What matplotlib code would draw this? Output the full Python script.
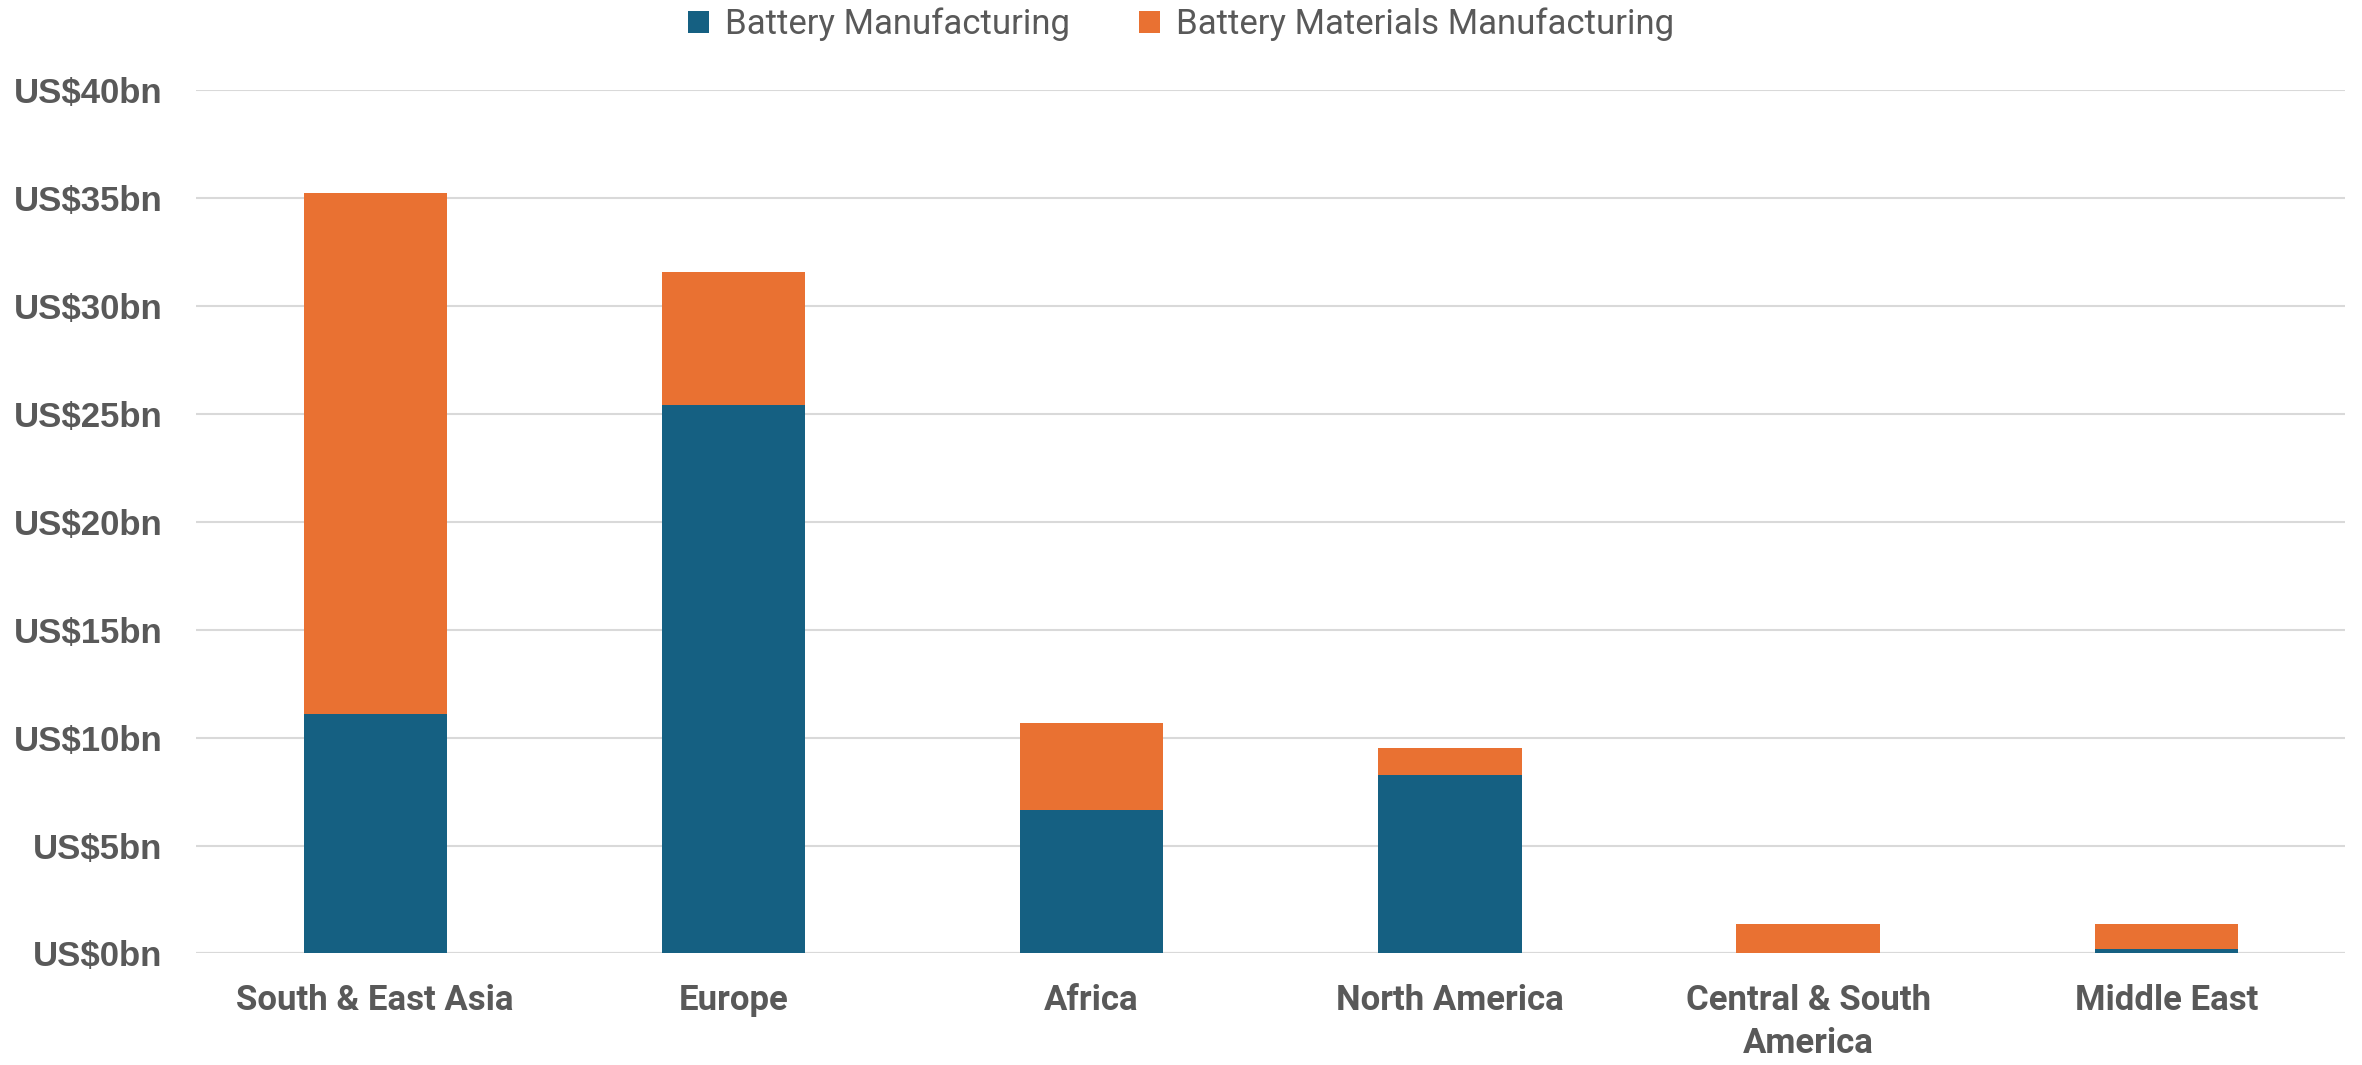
import numpy as np
import matplotlib
matplotlib.use('Agg')
import matplotlib.pyplot as plt
from matplotlib.ticker import FuncFormatter

# investment by region, US$ billions
regions = ['South & East Asia', 'Europe', 'Africa', 'North America',
           'Central & South\nAmerica', 'Middle East']
battery_mfg = [11.1, 25.4, 6.65, 8.27, 0.0, 0.2]
materials_mfg = [24.15, 6.17, 4.03, 1.25, 1.35, 1.15]

blue = '#156082'
orange = '#E97132'
grey = '#595959'

fig = plt.figure(figsize=(23.62, 10.65), dpi=100)
ax = fig.add_axes([0.083, 0.1047, 0.910, 0.8104])

x = np.arange(len(regions))
w = 0.4
ax.bar(x, battery_mfg, w, color=blue, label='Battery Manufacturing', zorder=3)
ax.bar(x, materials_mfg, w, bottom=battery_mfg, color=orange,
       label='Battery Materials Manufacturing', zorder=3)

ax.set_xlim(-0.5, len(regions) - 0.5)
ax.set_ylim(0, 40)
ax.set_yticks(np.arange(0, 41, 5))
ax.yaxis.set_major_formatter(FuncFormatter(lambda v, p: f'US${v:.0f}bn'))
ax.grid(axis='y', color='#D9D9D9', linewidth=1.5, zorder=0)
ax.set_axisbelow(True)
for s in ax.spines.values():
    s.set_visible(False)
ax.axhline(0, color='#D9D9D9', linewidth=1.5, zorder=2)

ax.tick_params(axis='both', length=0)
ax.tick_params(axis='y', pad=24)
ax.tick_params(axis='x', pad=22)
for lab in ax.get_yticklabels():
    lab.set_fontfamily('Liberation Sans')
    lab.set_fontweight('bold')
    lab.set_fontsize(25)
    lab.set_color(grey)

ax.set_xticks(x)
ax.set_xticklabels(regions, fontfamily='Roboto', fontweight='bold',
                   fontsize=25, color=grey, linespacing=1.4)

leg = fig.legend(loc='upper center', bbox_to_anchor=(0.5, 1.022), ncol=2,
                 frameon=False, handlelength=0.6, handleheight=0.6,
                 handletextpad=0.45, columnspacing=2.0,
                 prop={'family': 'Roboto', 'weight': 'normal', 'size': 25})
for t in leg.get_texts():
    t.set_color(grey)

fig.savefig('out.png', dpi=100, facecolor='white')
